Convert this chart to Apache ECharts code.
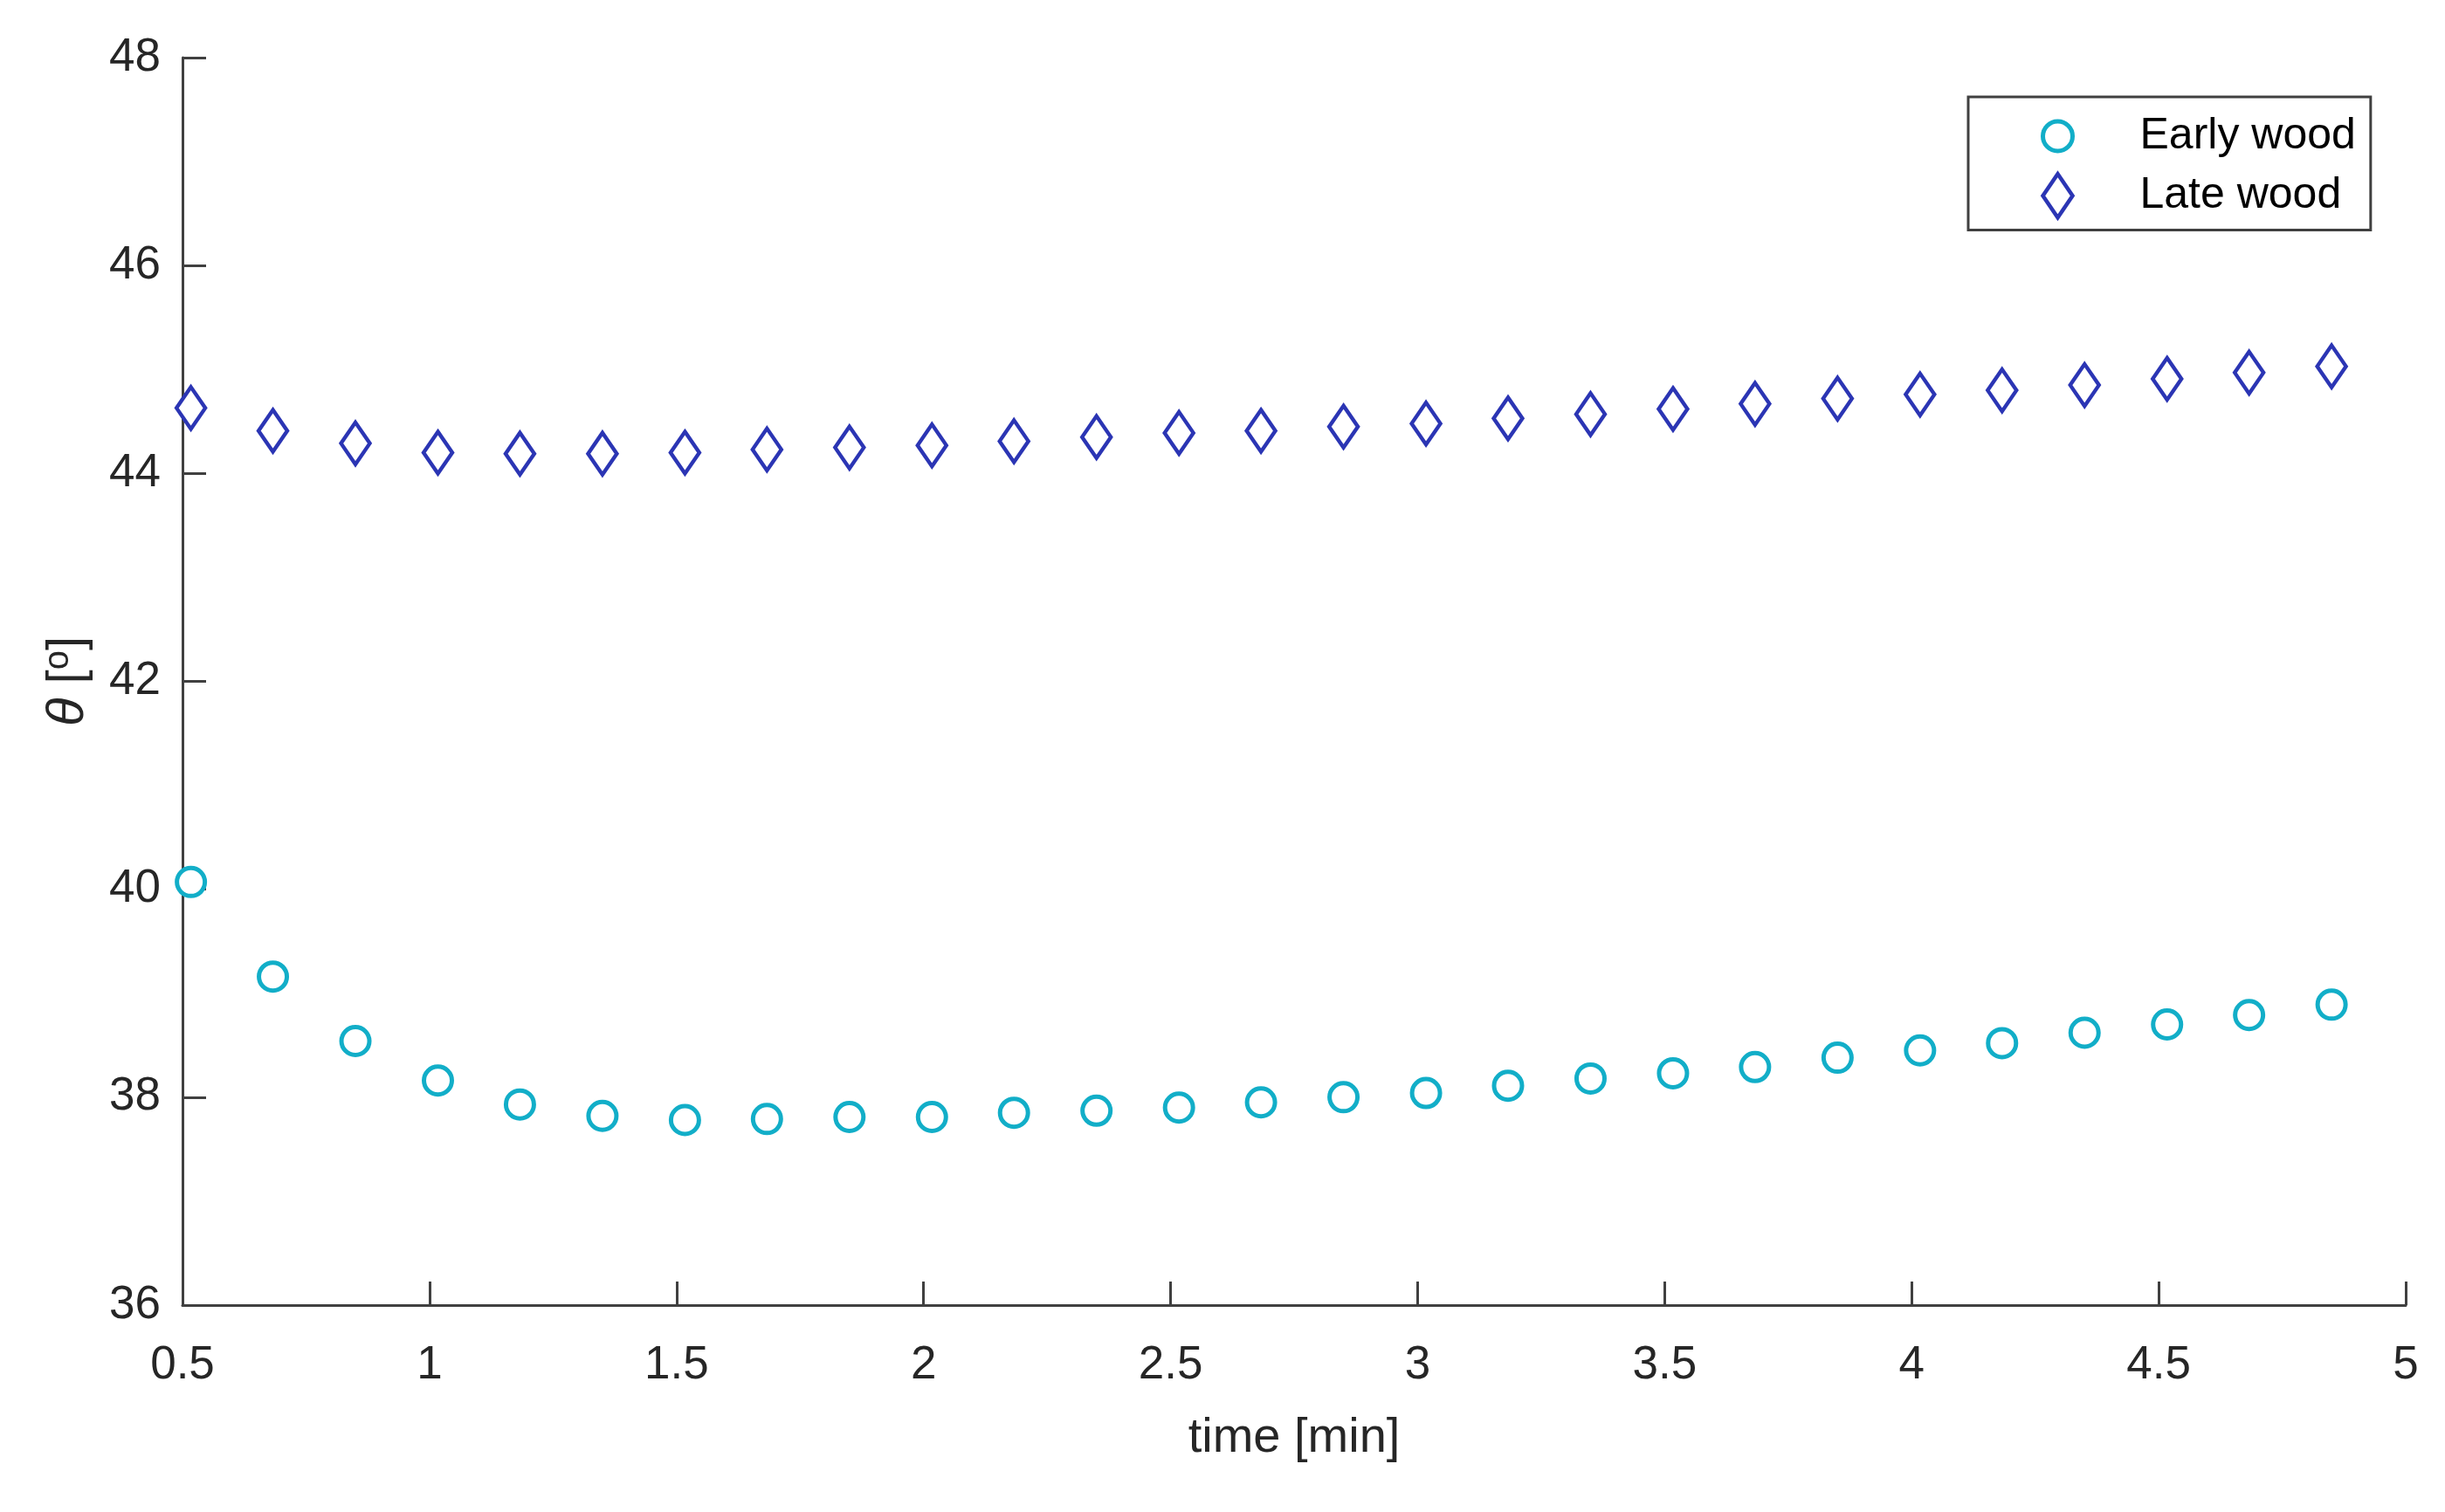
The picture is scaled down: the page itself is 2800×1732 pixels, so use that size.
<!DOCTYPE html>
<html><head><meta charset="utf-8">
<script src="https://cdn.jsdelivr.net/npm/echarts@6/dist/echarts.min.js"></script>
<style>html,body{margin:0;padding:0;background:#fff}#c{width:2800px;height:1732px}</style>
</head><body><div id="c"></div>
<script>
// time [min]
const time = [0.517, 0.683, 0.85, 1.017, 1.183, 1.35, 1.517, 1.683, 1.85, 2.017, 2.183, 2.35, 2.517, 2.683,
  2.85, 3.017, 3.183, 3.35, 3.517, 3.683, 3.85, 4.017, 4.183, 4.35, 4.517, 4.683, 4.85];
const earlyWood = [40.07, 39.16, 38.54, 38.16, 37.93, 37.82, 37.78, 37.79, 37.81, 37.81, 37.85, 37.87, 37.90, 37.95,
  38.00, 38.04, 38.11, 38.18, 38.23, 38.29, 38.38, 38.45, 38.52, 38.62, 38.70, 38.79, 38.89];
const lateWood = [44.63, 44.41, 44.29, 44.20, 44.19, 44.19, 44.20, 44.23, 44.25, 44.27, 44.31, 44.35, 44.39, 44.41,
  44.45, 44.48, 44.53, 44.57, 44.62, 44.67, 44.72, 44.76, 44.80, 44.85, 44.91, 44.97, 45.03];
const seriesNames = ['Early wood', 'Late wood'];

const FONT = "'Liberation Sans', Arial, sans-serif";
const FS = 53;
const AX = '#404040';
const TXT = '#262626';
const C1 = '#12aec8';
const C2 = '#2b35b4';

const chart = echarts.init(document.getElementById('c'), null, {renderer: 'canvas'});
const axisCommon = {
  type: 'value',
  axisLine: {show: true, onZero: false, lineStyle: {color: AX, width: 3}},
  axisTick: {show: true, inside: true, length: 27, lineStyle: {color: AX, width: 3}},
  splitLine: {show: false},
  axisLabel: {color: TXT, fontSize: FS, fontFamily: FONT}
};
chart.setOption({
  animation: false,
  backgroundColor: '#fff',
  textStyle: {fontFamily: FONT},
  grid: {left: 209, right: 45, top: 66, bottom: 237, containLabel: false},
  xAxis: Object.assign({}, axisCommon, {
    min: 0.5, max: 5, interval: 0.5,
    name: 'time [min]', nameLocation: 'middle', nameGap: 125,
    nameTextStyle: {color: TXT, fontSize: 56, fontFamily: FONT},
    axisLabel: Object.assign({}, axisCommon.axisLabel, {margin: 43})
  }),
  yAxis: Object.assign({}, axisCommon, {
    min: 36, max: 48, interval: 2,
    name: '{t|θ} [{s|o}]', nameLocation: 'middle', nameGap: 100, nameRotate: 90,
    nameTextStyle: {color: TXT, fontSize: 58, fontFamily: FONT,
      rich: {
        t: {fontSize: 60, fontStyle: 'italic', fontFamily: FONT, color: TXT},
        s: {fontSize: 40, fontFamily: FONT, color: TXT, padding: [0, 0, 22, 0]}
      }},
    axisLabel: Object.assign({}, axisCommon.axisLabel, {margin: 25})
  }),
  legend: {
    orient: 'vertical', left: 2254, top: 111,
    padding: [20, 17, 12, 83],
    itemWidth: 34, itemHeight: 50, itemGap: 16,
    borderColor: '#404040', borderWidth: 3, backgroundColor: '#fff',
    textStyle: {fontSize: 50, lineHeight: 50, color: '#000', fontFamily: FONT, padding: [0, 0, 0, 72]},
    data: [
      {name: seriesNames[0], icon: 'circle', itemStyle: {color: '#fff', borderColor: C1, borderWidth: 5}},
      {name: seriesNames[1], icon: 'diamond', itemStyle: {color: '#fff', borderColor: C2, borderWidth: 4.5}}
    ]
  },
  series: [
    {
      name: seriesNames[0], type: 'scatter', symbol: 'circle', symbolSize: 32,
      itemStyle: {color: '#fff', borderColor: C1, borderWidth: 5, opacity: 1},
      data: time.map((t, i) => [t, earlyWood[i]])
    },
    {
      name: seriesNames[1], type: 'scatter', symbol: 'diamond', symbolSize: [33, 48],
      itemStyle: {color: '#fff', borderColor: C2, borderWidth: 4.5, opacity: 1},
      data: time.map((t, i) => [t, lateWood[i]])
    }
  ]
});
</script></body></html>
